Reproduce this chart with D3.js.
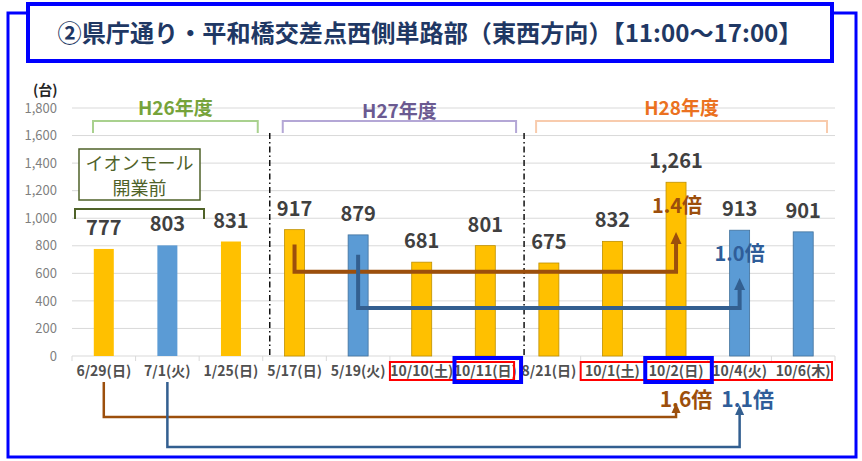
<!DOCTYPE html>
<html>
<head>
<meta charset="utf-8">
<script src="https://cdn.jsdelivr.net/npm/d3@7"></script>
<style>
  body { margin: 0; background: #fff; }
  svg { display: block; font-family: "Noto Sans CJK JP", "Noto Sans", sans-serif; }
</style>
</head>
<body>
<div id="container"></div>
<script>
"use strict";

const title = "②県庁通り・平和橋交差点西側単路部（東西方向）【11:00～17:00】";
const categories = ["6/29(日)", "7/1(火)", "1/25(日)", "5/17(日)", "5/19(火)", "10/10(土)",
  "10/11(日)", "8/21(日)", "10/1(土)", "10/2(日)", "10/4(火)", "10/6(木)"];
const values = [777, 803, 831, 917, 879, 681, 801, 675, 832, 1261, 913, 901];
// true = weekday (blue), false = weekend (yellow)
const weekday = [false, true, false, false, true, false, false, false, false, false, true, true];
const yTicks = [0, 200, 400, 600, 800, 1000, 1200, 1400, 1600, 1800];

const groupNames = ["H26年度", "H27年度", "H28年度"];
const groupFirst = [0, 3, 7];
const groupLast = [2, 6, 11];

// ratio arrows: [from, to, label]
const topArrows = [[3, 9, "1.4倍"], [4, 10, "1.0倍"]];
const bottomArrows = [[0, 9, "1.6倍"], [1, 10, "1.1倍"]];

const W = 862, H = 461;
const plot = { left: 72, right: 835, top: 108, bottom: 356 };

const svg = d3.select("#container").append("svg").attr("width", W).attr("height", H);

const x = d3.scaleBand().domain(categories).range([plot.left, plot.right]).paddingInner(0).paddingOuter(0);
const y = d3.scaleLinear().domain([0, 1800]).range([plot.bottom, plot.top]);
const bw = x.bandwidth();
const cx = (i) => x(categories[i]) + bw / 2;

// outer frame
svg.append("rect").attr("x", 8).attr("y", 13).attr("width", 848).attr("height", 444)
  .attr("fill", "#fff").attr("stroke", "#0000ff").attr("stroke-width", 3);

// title box
svg.append("rect").attr("x", 28).attr("y", 4).attr("width", 804).attr("height", 57)
  .attr("fill", "#fff").attr("stroke", "#0000ff").attr("stroke-width", 4);
svg.append("text").attr("x", 430).attr("y", 42).attr("text-anchor", "middle")
  .attr("font-size", 24).attr("font-weight", "bold").attr("fill", "#1f3864")
  .attr("textLength", 745).attr("lengthAdjust", "spacingAndGlyphs")
  .text(title);

// gridlines + y labels
svg.append("g").selectAll("line").data(yTicks).join("line")
  .attr("x1", plot.left).attr("x2", plot.right)
  .attr("y1", (d) => y(d)).attr("y2", (d) => y(d))
  .attr("stroke", "#d9d9d9").attr("stroke-width", 1);

svg.append("g")
  .attr("transform", `translate(${plot.left - 12},0)`)
  .call(d3.axisLeft(y).tickValues(yTicks).tickSize(0).tickFormat(d3.format(",")))
  .call((g) => g.select(".domain").remove())
  .selectAll("text")
  .attr("font-size", 13).attr("fill", "#7f7f7f").attr("font-family", "Noto Sans CJK JP");

svg.append("text").attr("x", 33).attr("y", 95).attr("font-size", 14).attr("font-weight", "bold")
  .attr("fill", "#262626").text("(台)");

// x axis ticks at band edges
svg.append("g").selectAll("line").data(d3.range(categories.length + 1)).join("line")
  .attr("x1", (i) => plot.left + i * bw).attr("x2", (i) => plot.left + i * bw)
  .attr("y1", plot.bottom).attr("y2", plot.bottom + 5)
  .attr("stroke", "#d9d9d9");

// group separators
[3, 7].forEach((i) => {
  svg.append("line")
    .attr("x1", x(categories[i]) + 7).attr("x2", x(categories[i]) + 7)
    .attr("y1", 133).attr("y2", plot.bottom + 2)
    .attr("stroke", "#111").attr("stroke-width", 1.5).attr("stroke-dasharray", "6,3,1.5,3");
});

// bars
svg.append("g").selectAll("rect").data(values).join("rect")
  .attr("x", (d, i) => cx(i) - 10)
  .attr("y", (d) => y(d))
  .attr("width", 20)
  .attr("height", (d) => y(0) - y(d))
  .attr("fill", (d, i) => (weekday[i] ? "#5b9bd5" : "#ffc000"))
  .attr("stroke", (d, i) => (i < 3 ? "none" : weekday[i] ? "#41719c" : "#bf9000"))
  .attr("stroke-width", 0.8);

// value labels
svg.append("g").selectAll("text").data(values).join("text")
  .attr("x", (d, i) => cx(i)).attr("y", (d) => y(d) - 14)
  .attr("text-anchor", "middle").attr("font-size", 20).attr("font-weight", "bold")
  .attr("fill", "#404040")
  .text((d) => d3.format(",")(d));

// x labels
svg.append("g")
  .attr("transform", `translate(0,${plot.bottom})`)
  .call(d3.axisBottom(x).tickSize(0).tickPadding(10))
  .call((g) => g.select(".domain").remove())
  .selectAll("text")
  .attr("font-size", 14).attr("font-weight", "bold").attr("fill", "#505050")
  .attr("font-family", "Noto Sans CJK JP");

// red and blue highlight boxes under the axis labels
const redBoxes = [[5, 6], [8, 11]];
const blueBoxes = [6, 9];
redBoxes.forEach(([a, b]) => {
  svg.append("rect").attr("x", x(categories[a])).attr("y", 362)
    .attr("width", x(categories[b]) + bw - x(categories[a]) - 3).attr("height", 18)
    .attr("fill", "none").attr("stroke", "#ff0000").attr("stroke-width", 2);
});
blueBoxes.forEach((i) => {
  svg.append("rect").attr("x", x(categories[i]) + 1).attr("y", 358)
    .attr("width", bw + 3).attr("height", 24)
    .attr("fill", "none").attr("stroke", "#0000ff").attr("stroke-width", 4);
});

// fiscal year brackets
const groupColors = ["#76a33a", "#6b5a91", "#eb7120"];
const bracketColors = ["#a9d18e", "#b4a7d6", "#f8cbad"];
const bracketInset = [[21, 5], [20, 1], [19, 8]];
groupNames.forEach((name, k) => {
  const x0 = x(categories[groupFirst[k]]) + bracketInset[k][0];
  const x1 = x(categories[groupLast[k]]) + bw - bracketInset[k][1];
  svg.append("path")
    .attr("d", `M${x0},133 V121 H${x1} V133`)
    .attr("fill", "none").attr("stroke", bracketColors[k]).attr("stroke-width", 2);
  svg.append("text").attr("x", (x0 + x1) / 2).attr("y", k === 1 ? 118 : 115)
    .attr("text-anchor", "middle").attr("font-size", 19).attr("font-weight", "bold")
    .attr("fill", groupColors[k]).text(name);
});

// "before mall opened" note
svg.append("rect").attr("x", 79).attr("y", 149).attr("width", 121).attr("height", 51)
  .attr("fill", "#fff").attr("stroke", "#4f6228").attr("stroke-width", 1.5);
svg.append("text").attr("x", 139.5).attr("y", 170).attr("text-anchor", "middle")
  .attr("font-size", 18).attr("fill", "#4f6228").text("イオンモール");
svg.append("text").attr("x", 139.5).attr("y", 195).attr("text-anchor", "middle")
  .attr("font-size", 18).attr("fill", "#4f6228").text("開業前");
svg.append("path").attr("d", "M75,219 V209 H204 V219")
  .attr("fill", "none").attr("stroke", "#4f6228").attr("stroke-width", 2);

// arrows
const brown = "#9c4f0c", navy = "#335f90";
function arrowHead(px, tipY, c, size) {
  svg.append("path")
    .attr("d", `M${px},${tipY} L${px + size / 2},${tipY + size * 1.1} L${px - size / 2},${tipY + size * 1.1} Z`)
    .attr("fill", c);
}

// top arrows: [startValue, lineValue, tipValue]
const topLevels = [[810, 612, 900], [735, 348, 566]];
topArrows.forEach(([a, b, label], k) => {
  const c = k === 0 ? brown : navy;
  const [v0, v1, v2] = topLevels[k];
  svg.append("path")
    .attr("d", `M${cx(a)},${y(v0)} V${y(v1)} H${cx(b)} V${y(v2) + 10}`)
    .attr("fill", "none").attr("stroke", c).attr("stroke-width", 4);
  arrowHead(cx(b), y(v2), c, 11);
});
svg.append("text").attr("x", cx(9) + 1).attr("y", 213).attr("text-anchor", "middle")
  .attr("font-size", 20).attr("font-weight", "bold").attr("fill", brown).text(topArrows[0][2]);
svg.append("text").attr("x", cx(10)).attr("y", 261).attr("text-anchor", "middle")
  .attr("font-size", 20).attr("font-weight", "bold").attr("fill", "#2f5d99").text(topArrows[1][2]);

// bottom arrows
const bottomLines = [417, 447];
const bottomTips = [403, 405];
bottomArrows.forEach(([a, b, label], k) => {
  const c = k === 0 ? brown : navy;
  svg.append("text").attr("x", cx(b) + (k === 0 ? 10 : 8)).attr("y", 407)
    .attr("text-anchor", "middle").attr("font-size", 21).attr("font-weight", "bold")
    .attr("fill", k === 0 ? brown : "#2f5d99").text(label);
  svg.append("path")
    .attr("d", `M${cx(a)},382 V${bottomLines[k]} H${cx(b)} V${bottomTips[k] + 8}`)
    .attr("fill", "none").attr("stroke", c).attr("stroke-width", 2.5);
  arrowHead(cx(b), bottomTips[k], c, 9);
});
</script>
</body>
</html>
